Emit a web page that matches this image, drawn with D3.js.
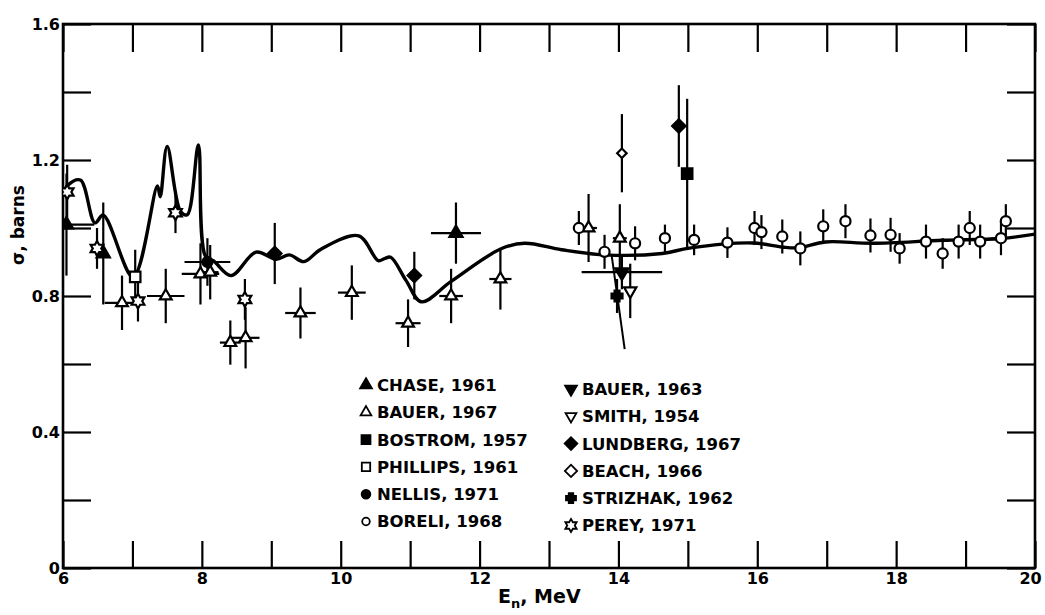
<!DOCTYPE html>
<html lang="en">
<head>
<meta charset="UTF-8">
<title>Cross section</title>
<style>
  body { margin: 0; background: #fff; }
  svg text { font-family: "DejaVu Sans", sans-serif; font-weight: bold; fill: #000; }
</style>
</head>
<body>
<script src="https://cdn.jsdelivr.net/npm/d3@7"></script>
<script>
// theory curve, E (MeV) vs sigma (barns)
var curveE = [6.0, 6.07, 6.25, 6.46, 6.58, 7.01, 7.36, 7.40, 7.50, 7.69, 7.79, 7.95, 8.05, 8.17, 8.42,
              8.78, 9.07, 9.26, 9.47, 9.71, 10.26, 10.54, 10.63, 10.72, 10.94, 11.16, 11.59, 12.31,
              12.65, 13.18, 13.80, 14.63, 15.02, 15.93, 16.36, 16.6, 16.98, 17.66, 18.67, 19.5, 20.0];
var curveS = [1.10, 1.126, 1.141, 1.015, 1.038, 0.856, 1.124, 1.092, 1.24, 1.05, 1.039, 1.244, 0.918, 0.903, 0.860,
              0.929, 0.908, 0.921, 0.901, 0.937, 0.977, 0.904, 0.91, 0.914, 0.846, 0.783, 0.843, 0.939,
              0.955, 0.936, 0.921, 0.925, 0.941, 0.956, 0.944, 0.942, 0.959, 0.955, 0.964, 0.969, 0.982];
// second branch near 14 MeV
var branchE = [13.90, 14.09];
var branchS = [0.923, 0.644];

// data points: [E, sigma, half width in E, half error in sigma]
var chase    = [[6.05, 1.01, 0.4, 0.15], [6.58, 0.925, 0, 0.15], [11.66, 0.985, 0.36, 0.09]];
var bauer67  = [[6.85, 0.78, 0.25, 0.08], [7.48, 0.80, 0.27, 0.08], [7.98, 0.865, 0.27, 0.09],
                [8.12, 0.87, 0.12, 0.08], [8.41, 0.663, 0.15, 0.065], [8.63, 0.677, 0.2, 0.09],
                [9.42, 0.75, 0.22, 0.075], [10.16, 0.81, 0.2, 0.08], [10.97, 0.72, 0.18, 0.07],
                [11.59, 0.80, 0.17, 0.08], [12.3, 0.85, 0.16, 0.09], [13.57, 1.0, 0.12, 0.1],
                [14.02, 0.97, 0.1, 0.1]];
var bostrom  = [[14.99, 1.16, 0, 0.22]];
var phillips = [[7.04, 0.856, 0, 0.08]];
var nellis   = [[8.08, 0.90, 0.33, 0.07]];
var boreli   = [[13.43, 1.0, 0, 0.05], [13.8, 0.93, 0, 0.05], [14.24, 0.955, 0, 0.05], [14.67, 0.97, 0, 0.04],
                [15.09, 0.965, 0, 0.045], [15.57, 0.957, 0, 0.045], [15.96, 1.0, 0, 0.05], [16.06, 0.988, 0, 0.05],
                [16.36, 0.975, 0, 0.05], [16.62, 0.94, 0, 0.05], [16.95, 1.005, 0, 0.05], [17.27, 1.02, 0, 0.05],
                [17.63, 0.978, 0, 0.05], [17.92, 0.98, 0, 0.05], [18.05, 0.94, 0, 0.045], [18.43, 0.96, 0, 0.05],
                [18.67, 0.925, 0, 0.045], [18.9, 0.96, 0, 0.05], [19.06, 1.0, 0, 0.05], [19.21, 0.96, 0, 0.05],
                [19.51, 0.97, 0, 0.05], [19.58, 1.02, 0, 0.05]];
var bauer63  = [[14.05, 0.87, 0.58, 0.05]];
var smith    = [[14.17, 0.815, 0, 0.08]];
var lundberg = [[9.05, 0.925, 0, 0.09], [11.06, 0.86, 0, 0.07], [14.87, 1.30, 0, 0.12]];
var beach    = [[14.05, 1.22, 0, 0.115]];
var strizhak = [[13.98, 0.80, 0, 0.05]];
var perey    = [[6.06, 1.106, 0, 0.08], [6.49, 0.94, 0, 0.06], [7.08, 0.785, 0, 0.06], [7.62, 1.045, 0, 0.06],
                [8.62, 0.79, 0, 0.06]];

var xTicks = [6, 7, 8, 9, 10, 11, 12, 13, 14, 15, 16, 17, 18, 19, 20];
var yTicks = [0, 0.2, 0.4, 0.6, 0.8, 1.0, 1.2, 1.4, 1.6];
var legendLeft  = ["CHASE, 1961", "BAUER, 1967", "BOSTROM, 1957", "PHILLIPS, 1961", "NELLIS, 1971", "BORELI, 1968"];
var legendRight = ["BAUER, 1963", "SMITH, 1954", "LUNDBERG, 1967", "BEACH, 1966", "STRIZHAK, 1962", "PEREY, 1971"];

var width = 1045, height = 615;
var pad = {left: 63, right: 1035, top: 24, bottom: 568};

var svg = d3.select("body").append("svg").attr("width", width).attr("height", height);

var x = d3.scaleLinear().domain([6, 20]).range([pad.left, pad.right]);
var y = d3.scaleLinear().domain([0, 1.6]).range([pad.bottom, pad.top]);

// hexagram outline
var hexStar = {
  draw: function(ctx, size) {
    var r = Math.sqrt(size) * 0.62, ri = r * 0.577;
    for (var i = 0; i < 12; i++) {
      var a = Math.PI / 6 * i - Math.PI / 2;
      var rr = i % 2 === 0 ? r : ri;
      if (i === 0) ctx.moveTo(rr * Math.cos(a), rr * Math.sin(a));
      else ctx.lineTo(rr * Math.cos(a), rr * Math.sin(a));
    }
    ctx.closePath();
  }
};
// filled cross for STRIZHAK
var blobCross = {
  draw: function(ctx, size) {
    var r = Math.sqrt(size) * 0.5;
    var w = r * 0.45;
    ctx.moveTo(-w, -r); ctx.lineTo(w, -r); ctx.lineTo(w, -w); ctx.lineTo(r, -w); ctx.lineTo(r, w);
    ctx.lineTo(w, w); ctx.lineTo(w, r); ctx.lineTo(-w, r); ctx.lineTo(-w, w); ctx.lineTo(-r, w);
    ctx.lineTo(-r, -w); ctx.lineTo(-w, -w); ctx.closePath();
  }
};

var styles = [
  {data: chase, type: d3.symbolTriangle, fill: true, size: 75, key: 60},
  {data: bauer67, type: d3.symbolTriangle, fill: false, size: 60, key: 50},
  {data: bostrom, type: d3.symbolSquare, fill: true, size: 110, key: 80},
  {data: phillips, type: d3.symbolSquare, fill: false, size: 110, key: 70},
  {data: nellis, type: d3.symbolCircle, fill: true, size: 80, key: 60},
  {data: boreli, type: d3.symbolCircle, fill: false, size: 80, key: 45},
  {data: bauer63, type: d3.symbolTriangle, fill: true, size: 80, key: 60, rot: 180},
  {data: smith, type: d3.symbolTriangle, fill: false, size: 65, key: 50, rot: 180},
  {data: lundberg, type: d3.symbolSquare, fill: true, size: 90, key: 80, rot: 45},
  {data: beach, type: d3.symbolSquare, fill: false, size: 45, key: 75, rot: 45},
  {data: strizhak, type: blobCross, fill: true, size: 120, key: 100},
  {data: perey, type: hexStar, fill: false, size: 140, key: 110}
];

svg.append("clipPath").attr("id", "plot")
  .append("rect").attr("x", pad.left).attr("y", pad.top)
  .attr("width", pad.right - pad.left).attr("height", pad.bottom - pad.top);

// axes with inward ticks
svg.append("g").attr("transform", "translate(0," + pad.bottom + ")")
  .call(d3.axisBottom(x).tickValues(xTicks).tickSize(-27).tickPadding(5)
    .tickFormat(function(d) { return d % 2 === 0 ? d : ""; }));
svg.append("g").attr("transform", "translate(0," + pad.top + ")")
  .call(d3.axisTop(x).tickValues(xTicks).tickSize(-28).tickFormat(""));
svg.append("g").attr("transform", "translate(" + pad.left + ",0)")
  .call(d3.axisLeft(y).tickValues(yTicks).tickSize(-28).tickPadding(3)
    .tickFormat(function(d, i) { return i % 2 === 0 ? (d === 0 ? "0" : d.toFixed(1)) : ""; }));
svg.append("g").attr("transform", "translate(" + pad.right + ",0)")
  .call(d3.axisRight(y).tickValues(yTicks).tickSize(-28).tickFormat(""));

svg.selectAll(".domain").remove();
svg.selectAll(".tick line").attr("stroke", "#000").attr("stroke-width", 2.2);
svg.selectAll(".tick text").style("font-size", "16px").style("font-family", "'DejaVu Sans', sans-serif")
  .style("font-weight", "bold").attr("fill", "#000");
// last x label sits against the page edge
svg.selectAll(".tick text").filter(function(d) { return d === 20; }).attr("dx", -5);

svg.append("rect").attr("x", pad.left).attr("y", pad.top)
  .attr("width", pad.right - pad.left).attr("height", pad.bottom - pad.top)
  .attr("fill", "none").attr("stroke", "#000").attr("stroke-width", 2.6);

var plot = svg.append("g").attr("clip-path", "url(#plot)");

// theory curve
var line = d3.line().x(function(d) { return x(d[0]); }).y(function(d) { return y(d[1]); })
  .curve(d3.curveCatmullRom.alpha(0.5));
plot.append("path").datum(d3.zip(curveE, curveS)).attr("d", line)
  .attr("fill", "none").attr("stroke", "#000").attr("stroke-width", 3.4).attr("stroke-linejoin", "round");
plot.append("path").datum(d3.zip(branchE, branchS))
  .attr("d", d3.line().x(function(d) { return x(d[0]); }).y(function(d) { return y(d[1]); }))
  .attr("fill", "none").attr("stroke", "#000").attr("stroke-width", 2);

// error bars then markers
styles.forEach(function(s) {
  var g = plot.append("g");
  g.selectAll("line.v").data(s.data).enter().append("line")
    .attr("x1", function(d) { return x(d[0]); }).attr("x2", function(d) { return x(d[0]); })
    .attr("y1", function(d) { return y(d[1] - d[3]); }).attr("y2", function(d) { return y(d[1] + d[3]); })
    .attr("stroke", "#000").attr("stroke-width", 2.2);
  g.selectAll("line.h").data(s.data.filter(function(d) { return d[2] > 0; })).enter().append("line")
    .attr("x1", function(d) { return x(d[0] - d[2]); }).attr("x2", function(d) { return x(d[0] + d[2]); })
    .attr("y1", function(d) { return y(d[1]); }).attr("y2", function(d) { return y(d[1]); })
    .attr("stroke", "#000").attr("stroke-width", 2.2);
});
styles.forEach(function(s) {
  var sym = d3.symbol().type(s.type).size(s.size);
  plot.append("g").selectAll("path").data(s.data).enter().append("path")
    .attr("d", sym)
    .attr("transform", function(d) {
      return "translate(" + x(d[0]) + "," + y(d[1]) + ")" + (s.rot ? " rotate(" + s.rot + ")" : "");
    })
    .attr("fill", s.fill ? "#000" : "#fff").attr("stroke", "#000").attr("stroke-width", 2.2);
});

// legend
var legend = svg.append("g");
function legendColumn(names, offset, mx, tx, y0) {
  names.forEach(function(name, i) {
    var s = styles[offset + i];
    var cy = y0 + i * 27.3;
    legend.append("path").attr("d", d3.symbol().type(s.type).size(s.key)())
      .attr("transform", "translate(" + mx + "," + cy + ")" + (s.rot ? " rotate(" + s.rot + ")" : ""))
      .attr("fill", s.fill ? "#000" : "#fff").attr("stroke", "#000").attr("stroke-width", 1.8);
    legend.append("text").attr("x", tx).attr("y", cy).attr("dy", "0.36em")
      .style("font-size", "16.5px").text(name);
  });
}
legendColumn(legendLeft, 0, 366, 377, 385);
legendColumn(legendRight, 6, 571, 582, 389);

// axis titles
svg.append("text").attr("transform", "translate(24,225) rotate(-90)").attr("text-anchor", "middle")
  .style("font-size", "17px").text("σ, barns");
var xt = svg.append("text").attr("x", 498).attr("y", 603).style("font-size", "19px");
xt.append("tspan").text("E");
xt.append("tspan").attr("dy", 5).style("font-size", "13px").text("n");
xt.append("tspan").attr("dy", -5).text(",  MeV");
</script>
</body>
</html>
